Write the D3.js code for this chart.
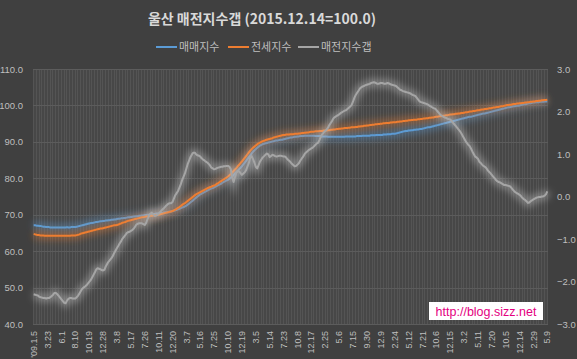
<!DOCTYPE html>
<html>
<head>
<meta charset="utf-8">
<script src="https://cdnjs.cloudflare.com/ajax/libs/d3/7.8.5/d3.min.js"></script>
<style>
  body { margin: 0; background: #404040; }
  svg { display: block; font-family: "Noto Sans CJK KR", "Noto Sans", sans-serif; }
</style>
</head>
<body>
<div id="chart"></div>
<script>
// weekly index values, one row = 10 weeks (one x label)
var saleIdx = [
  67.1, 67.1, 67.0, 67.0, 66.9, 66.9, 66.8, 66.7, 66.7, 66.6,
  66.6, 66.6, 66.5, 66.5, 66.5, 66.5, 66.5, 66.5, 66.5, 66.5,
  66.5, 66.5, 66.5, 66.5, 66.6, 66.5, 66.5, 66.6, 66.6, 66.6,
  66.6, 66.7, 66.8, 66.9, 67.0, 67.1, 67.2, 67.3, 67.4, 67.5,
  67.6, 67.7, 67.7, 67.8, 67.9, 68.0, 68.0, 68.1, 68.2, 68.2,
  68.3, 68.3, 68.4, 68.4, 68.5, 68.5, 68.6, 68.6, 68.7, 68.7,
  68.8, 68.9, 68.9, 69.0, 69.0, 69.1, 69.1, 69.2, 69.3, 69.3,
  69.4, 69.4, 69.5, 69.5, 69.6, 69.6, 69.7, 69.7, 69.8, 69.8,
  69.9, 69.9, 70.0, 70.0, 70.1, 70.1, 70.2, 70.2, 70.3, 70.3,
  70.4, 70.4, 70.5, 70.5, 70.6, 70.7, 70.7, 70.8, 70.8, 70.9,
  71.0, 71.1, 71.2, 71.3, 71.5, 71.6, 71.8, 72.0, 72.1, 72.3,
  72.5, 72.8, 73.1, 73.4, 73.7, 74.0, 74.4, 74.7, 75.0, 75.3,
  75.6, 75.8, 76.0, 76.2, 76.4, 76.6, 76.8, 77.0, 77.2, 77.3,
  77.5, 77.7, 77.9, 78.1, 78.3, 78.5, 78.8, 79.0, 79.2, 79.4,
  79.6, 79.9, 80.2, 80.5, 80.9, 81.3, 81.7, 82.1, 82.5, 82.9,
  83.3, 83.8, 84.3, 84.8, 85.3, 85.8, 86.3, 86.8, 87.3, 87.7,
  88.0, 88.4, 88.7, 89.0, 89.2, 89.4, 89.5, 89.6, 89.7, 89.8,
  89.9, 90.0, 90.1, 90.2, 90.3, 90.4, 90.4, 90.5, 90.6, 90.6,
  90.7, 90.8, 90.9, 91.0, 91.1, 91.2, 91.2, 91.3, 91.4, 91.4,
  91.5, 91.5, 91.6, 91.6, 91.6, 91.7, 91.7, 91.7, 91.7, 91.7,
  91.7, 91.7, 91.7, 91.6, 91.6, 91.6, 91.6, 91.5, 91.5, 91.5,
  91.5, 91.5, 91.4, 91.4, 91.4, 91.4, 91.4, 91.4, 91.4, 91.4,
  91.4, 91.4, 91.4, 91.4, 91.4, 91.5, 91.5, 91.5, 91.5, 91.5,
  91.5, 91.5, 91.5, 91.6, 91.6, 91.6, 91.6, 91.7, 91.7, 91.7,
  91.7, 91.7, 91.7, 91.8, 91.8, 91.8, 91.8, 91.9, 91.9, 91.9,
  91.9, 91.9, 92.0, 92.0, 92.0, 92.1, 92.1, 92.1, 92.2, 92.2,
  92.2, 92.3, 92.4, 92.5, 92.6, 92.7, 92.8, 92.9, 93.0, 93.0,
  93.1, 93.1, 93.2, 93.2, 93.3, 93.3, 93.4, 93.4, 93.5, 93.5,
  93.6, 93.7, 93.8, 93.9, 94.0, 94.0, 94.1, 94.2, 94.3, 94.4,
  94.5, 94.6, 94.7, 94.8, 94.9, 95.0, 95.1, 95.2, 95.3, 95.4,
  95.5, 95.6, 95.7, 95.8, 95.9, 96.0, 96.1, 96.2, 96.3, 96.4,
  96.5, 96.6, 96.7, 96.8, 96.9, 96.9, 97.0, 97.1, 97.2, 97.3,
  97.4, 97.5, 97.6, 97.7, 97.8, 97.8, 97.9, 98.0, 98.1, 98.2,
  98.3, 98.4, 98.5, 98.6, 98.7, 98.8, 98.9, 99.0, 99.1, 99.2,
  99.3, 99.4, 99.5, 99.5, 99.6, 99.7, 99.8, 99.8, 99.9, 99.9,
  100.0, 100.1, 100.2, 100.3, 100.3, 100.4, 100.5, 100.6, 100.6, 100.7,
  100.8, 100.8, 100.9, 100.9, 100.9, 101.0, 101.0, 101.0, 101.1, 101.1,
  101.1
];

var jeonseIdx = [
  64.7, 64.6, 64.5, 64.4, 64.4, 64.3, 64.3, 64.3, 64.2, 64.2,
  64.2, 64.2, 64.2, 64.2, 64.2, 64.2, 64.2, 64.2, 64.2, 64.2,
  64.2, 64.2, 64.2, 64.2, 64.2, 64.2, 64.2, 64.3, 64.3, 64.3,
  64.3, 64.4, 64.5, 64.6, 64.8, 64.9, 65.0, 65.1, 65.2, 65.3,
  65.4, 65.5, 65.6, 65.7, 65.8, 65.9, 66.0, 66.1, 66.2, 66.2,
  66.3, 66.4, 66.5, 66.6, 66.7, 66.8, 66.9, 67.0, 67.1, 67.1,
  67.2, 67.3, 67.5, 67.6, 67.8, 67.9, 68.0, 68.2, 68.3, 68.4,
  68.5, 68.6, 68.7, 68.8, 68.9, 69.0, 69.1, 69.2, 69.3, 69.3,
  69.4, 69.5, 69.5, 69.6, 69.7, 69.7, 69.8, 69.8, 69.9, 69.9,
  70.0, 70.1, 70.2, 70.3, 70.4, 70.5, 70.6, 70.7, 70.8, 70.9,
  71.0, 71.2, 71.4, 71.6, 71.9, 72.1, 72.4, 72.7, 73.0, 73.2,
  73.5, 73.8, 74.1, 74.4, 74.7, 75.0, 75.3, 75.6, 75.8, 76.0,
  76.2, 76.4, 76.6, 76.8, 77.0, 77.2, 77.4, 77.6, 77.7, 77.9,
  78.0, 78.2, 78.5, 78.7, 79.0, 79.2, 79.5, 79.7, 80.0, 80.2,
  80.5, 80.8, 81.2, 81.6, 82.0, 82.4, 82.8, 83.3, 83.7, 84.2,
  84.6, 85.1, 85.6, 86.1, 86.6, 87.1, 87.6, 88.0, 88.4, 88.7,
  89.0, 89.3, 89.6, 89.8, 90.0, 90.2, 90.3, 90.5, 90.6, 90.7,
  90.8, 90.9, 91.0, 91.2, 91.3, 91.4, 91.5, 91.6, 91.7, 91.8,
  91.9, 91.9, 92.0, 92.0, 92.0, 92.1, 92.1, 92.1, 92.2, 92.2,
  92.2, 92.3, 92.3, 92.4, 92.4, 92.5, 92.5, 92.6, 92.6, 92.7,
  92.8, 92.8, 92.8, 92.9, 92.9, 92.9, 93.0, 93.0, 93.0, 93.1,
  93.1, 93.1, 93.2, 93.2, 93.3, 93.3, 93.4, 93.4, 93.5, 93.5,
  93.6, 93.6, 93.7, 93.7, 93.8, 93.8, 93.8, 93.9, 93.9, 94.0,
  94.0, 94.0, 94.1, 94.1, 94.2, 94.2, 94.3, 94.3, 94.4, 94.4,
  94.5, 94.5, 94.6, 94.6, 94.7, 94.7, 94.8, 94.8, 94.9, 94.9,
  95.0, 95.0, 95.1, 95.1, 95.2, 95.2, 95.2, 95.3, 95.3, 95.4,
  95.4, 95.4, 95.5, 95.5, 95.6, 95.6, 95.7, 95.7, 95.8, 95.8,
  95.9, 95.9, 96.0, 96.0, 96.1, 96.1, 96.1, 96.2, 96.2, 96.3,
  96.3, 96.4, 96.4, 96.5, 96.5, 96.6, 96.6, 96.7, 96.7, 96.8,
  96.9, 96.9, 97.0, 97.0, 97.1, 97.2, 97.2, 97.3, 97.3, 97.4,
  97.5, 97.5, 97.6, 97.6, 97.7, 97.7, 97.8, 97.8, 97.9, 97.9,
  98.0, 98.1, 98.1, 98.2, 98.3, 98.3, 98.4, 98.5, 98.5, 98.6,
  98.7, 98.7, 98.8, 98.9, 98.9, 99.0, 99.0, 99.1, 99.2, 99.2,
  99.3, 99.4, 99.4, 99.5, 99.6, 99.6, 99.7, 99.8, 99.8, 99.9,
  100.0, 100.1, 100.1, 100.2, 100.2, 100.3, 100.4, 100.4, 100.5, 100.5,
  100.6, 100.6, 100.7, 100.7, 100.8, 100.8, 100.9, 100.9, 101.0, 101.0,
  101.1, 101.1, 101.2, 101.2, 101.3, 101.3, 101.4, 101.4, 101.5, 101.5,
  101.6
];

var gapIdx = [
  -2.30, -2.31, -2.32, -2.33, -2.36, -2.37, -2.38, -2.39, -2.39, -2.40,
  -2.39, -2.39, -2.37, -2.34, -2.31, -2.27, -2.27, -2.30, -2.34, -2.38,
  -2.42, -2.46, -2.50, -2.51, -2.45, -2.41, -2.39, -2.39, -2.40, -2.40,
  -2.40, -2.37, -2.33, -2.28, -2.22, -2.17, -2.14, -2.12, -2.09, -2.05,
  -2.01, -1.97, -1.91, -1.85, -1.79, -1.72, -1.69, -1.70, -1.71, -1.73,
  -1.74, -1.72, -1.64, -1.58, -1.53, -1.49, -1.45, -1.40, -1.33, -1.27,
  -1.21, -1.16, -1.10, -1.05, -0.99, -0.95, -0.91, -0.86, -0.84, -0.83,
  -0.81, -0.79, -0.76, -0.71, -0.66, -0.64, -0.63, -0.63, -0.63, -0.65,
  -0.67, -0.62, -0.53, -0.45, -0.41, -0.38, -0.42, -0.45, -0.45, -0.43,
  -0.41, -0.37, -0.33, -0.30, -0.27, -0.23, -0.20, -0.17, -0.16, -0.16,
  -0.13, -0.05, 0.03, 0.08, 0.13, 0.21, 0.29, 0.39, 0.47, 0.55,
  0.66, 0.77, 0.85, 0.93, 0.99, 1.03, 1.03, 0.99, 0.97, 0.96,
  0.94, 0.90, 0.87, 0.85, 0.82, 0.80, 0.77, 0.73, 0.68, 0.66,
  0.64, 0.65, 0.67, 0.68, 0.69, 0.70, 0.70, 0.71, 0.71, 0.72,
  0.72, 0.70, 0.64, 0.45, 0.34, 0.46, 0.56, 0.60, 0.59, 0.55,
  0.51, 0.54, 0.57, 0.62, 0.71, 0.79, 0.92, 0.95, 0.88, 0.80,
  0.70, 0.66, 0.74, 0.82, 0.87, 0.92, 0.95, 0.98, 1.01, 0.99,
  0.93, 0.95, 0.98, 0.97, 0.95, 0.94, 0.95, 0.96, 0.96, 0.95,
  0.94, 0.94, 0.91, 0.87, 0.84, 0.81, 0.77, 0.74, 0.71, 0.72,
  0.75, 0.78, 0.84, 0.89, 0.93, 0.99, 1.03, 1.06, 1.09, 1.11,
  1.13, 1.15, 1.18, 1.22, 1.25, 1.27, 1.34, 1.42, 1.47, 1.51,
  1.54, 1.57, 1.62, 1.68, 1.73, 1.78, 1.84, 1.87, 1.89, 1.91,
  1.93, 1.96, 1.98, 2.00, 2.02, 2.03, 2.06, 2.09, 2.12, 2.15,
  2.23, 2.32, 2.39, 2.44, 2.49, 2.54, 2.57, 2.59, 2.60, 2.62,
  2.63, 2.64, 2.65, 2.67, 2.68, 2.69, 2.68, 2.66, 2.65, 2.66,
  2.67, 2.67, 2.66, 2.65, 2.66, 2.67, 2.66, 2.64, 2.63, 2.62,
  2.61, 2.60, 2.57, 2.54, 2.51, 2.50, 2.48, 2.47, 2.46, 2.45,
  2.44, 2.43, 2.41, 2.39, 2.38, 2.36, 2.32, 2.28, 2.24, 2.22,
  2.21, 2.20, 2.19, 2.18, 2.16, 2.14, 2.12, 2.10, 2.08, 2.07,
  2.04, 2.00, 1.96, 1.92, 1.90, 1.88, 1.86, 1.85, 1.83, 1.82,
  1.81, 1.78, 1.74, 1.70, 1.66, 1.62, 1.58, 1.54, 1.49, 1.43,
  1.37, 1.31, 1.26, 1.22, 1.19, 1.13, 1.06, 1.00, 0.94, 0.92,
  0.89, 0.82, 0.79, 0.75, 0.72, 0.70, 0.67, 0.62, 0.58, 0.55,
  0.51, 0.47, 0.43, 0.39, 0.36, 0.34, 0.33, 0.31, 0.29, 0.27,
  0.27, 0.26, 0.25, 0.24, 0.21, 0.17, 0.13, 0.10, 0.08, 0.06,
  0.04, 0.01, -0.03, -0.06, -0.08, -0.11, -0.15, -0.14, -0.11, -0.09,
  -0.07, -0.05, -0.03, -0.02, -0.01, -0.01, 0.00, 0.00, 0.02, 0.05,
  0.12
];

// x labels, one every 10 weeks
var tickLabels = ["'09.1.5", "3.23", "6.1", "8.10", "10.19", "12.28",
  "3.8", "5.17", "7.26", "10.11", "12.20",
  "3.7", "5.16", "7.25", "10.10", "12.19",
  "3.5", "5.14", "7.23", "10.8", "12.17",
  "2.25", "5.6", "7.15", "9.30", "12.9",
  "2.24", "5.12", "7.21", "10.6", "12.15",
  "3.2", "5.11", "7.20", "10.5", "12.14",
  "2.29", "5.9"];
var tickEvery = 10;

var leftTicks = [40, 50, 60, 70, 80, 90, 100, 110];
var rightTicks = [-3, -2, -1, 0, 1, 2, 3];

var seriesNames = ['매매지수', '전세지수', '매전지수갭'];
var seriesColors = ['#5b9bd5', '#ed7d31', '#a5a5a5'];

var W = 577, H = 359;
var plot = { left: 33, right: 548, top: 69, bottom: 324 };

var svg = d3.select('#chart').append('svg')
    .attr('width', W)
    .attr('height', H);

svg.append('rect')
    .attr('width', W).attr('height', H)
    .attr('fill', '#404040');

var defs = svg.append('defs');
defs.append('filter').attr('id', 'glow')
    .attr('x', '-5%').attr('y', '-20%').attr('width', '110%').attr('height', '140%')
  .append('feGaussianBlur').attr('stdDeviation', 3.5);

var n = saleIdx.length;
var x = d3.scaleBand()
    .domain(d3.range(n))
    .range([plot.left, plot.right]);
var cx = function(i) { return x(i) + x.bandwidth() / 2; };

var yL = d3.scaleLinear().domain([40, 110]).range([plot.bottom, plot.top]);
var yR = d3.scaleLinear().domain([-3, 3]).range([plot.bottom, plot.top]);

// plot area
svg.append('rect')
    .attr('x', plot.left).attr('y', plot.top)
    .attr('width', plot.right - plot.left)
    .attr('height', plot.bottom - plot.top)
    .attr('fill', '#474747');

// dense vertical gridlines
svg.append('g')
  .selectAll('line')
  .data(d3.range(0, n + 1, 2))
  .enter().append('line')
    .attr('x1', function(d) { return Math.round(plot.left + d * x.step()) + 0.5; })
    .attr('x2', function(d) { return Math.round(plot.left + d * x.step()) + 0.5; })
    .attr('y1', plot.top).attr('y2', plot.bottom)
    .attr('stroke', '#545454')
    .attr('stroke-width', 1);

// horizontal gridlines
svg.append('g')
  .selectAll('line')
  .data(leftTicks)
  .enter().append('line')
    .attr('x1', plot.left).attr('x2', plot.right)
    .attr('y1', function(d) { return Math.round(yL(d)) + 0.5; })
    .attr('y2', function(d) { return Math.round(yL(d)) + 0.5; })
    .attr('stroke', '#5c5c5c')
    .attr('stroke-width', 1);

// left axis
var leftAxis = svg.append('g')
    .attr('transform', 'translate(' + plot.left + ',0)')
    .call(d3.axisLeft(yL).tickValues(leftTicks).tickFormat(d3.format('.1f')).tickSize(0).tickPadding(10));
leftAxis.select('.domain').remove();
leftAxis.selectAll('text')
    .attr('fill', '#bfbfbf')
    .style('font-size', '9.5px');

// right axis
var rightAxis = svg.append('g')
    .attr('transform', 'translate(' + plot.right + ',0)')
    .call(d3.axisRight(yR).tickValues(rightTicks).tickFormat(d3.format('.1f')).tickSize(0).tickPadding(9));
rightAxis.select('.domain').remove();
rightAxis.selectAll('text')
    .attr('fill', '#bfbfbf')
    .style('font-size', '9.5px');

// bottom axis, rotated labels
var bottomAxis = svg.append('g')
    .attr('transform', 'translate(0,' + plot.bottom + ')')
    .call(d3.axisBottom(x)
      .tickValues(d3.range(0, n, tickEvery))
      .tickFormat(function(d) { return tickLabels[d / tickEvery]; })
      .tickSize(0));
bottomAxis.select('.domain').remove();
bottomAxis.selectAll('text')
    .attr('fill', '#bfbfbf')
    .style('font-size', '9px')
    .attr('text-anchor', 'end')
    .attr('dy', '0.35em')
    .attr('transform', 'translate(0,7) rotate(-90)')
    .attr('x', 0).attr('y', 0);

// lines
var lineL = d3.line()
    .x(function(d, i) { return cx(i); })
    .y(function(d) { return yL(d); });
var lineR = d3.line()
    .x(function(d, i) { return cx(i); })
    .y(function(d) { return yR(d); });

var seriesData = [
  { values: saleIdx, line: lineL, color: seriesColors[0], glow: '#5b9bd5' },
  { values: jeonseIdx, line: lineL, color: seriesColors[1], glow: '#ed7d31' },
  { values: gapIdx, line: lineR, color: seriesColors[2], glow: '#d0d0d0' }
];

var lines = svg.append('g');
seriesData.forEach(function(s) {
  lines.append('path')
      .attr('d', s.line(s.values))
      .attr('fill', 'none')
      .attr('stroke', s.glow)
      .attr('stroke-width', 8)
      .attr('stroke-opacity', 0.42)
      .attr('filter', 'url(#glow)');
  lines.append('path')
      .attr('d', s.line(s.values))
      .attr('fill', 'none')
      .attr('stroke', s.color)
      .attr('stroke-width', 2)
      .attr('stroke-linejoin', 'round');
});

// title
svg.append('text')
    .attr('x', 262).attr('y', 24)
    .attr('text-anchor', 'middle')
    .attr('fill', '#d9d9d9')
    .style('font-size', '14px')
    .style('font-weight', 'bold')
    .text('울산 매전지수갭 (2015.12.14=100.0)');

// legend
var legendX = [156, 228, 298];
var legend = svg.append('g');
seriesNames.forEach(function(name, i) {
  legend.append('line')
      .attr('x1', legendX[i]).attr('x2', legendX[i] + 21)
      .attr('y1', 47).attr('y2', 47)
      .attr('stroke', seriesColors[i])
      .attr('stroke-width', 2);
  legend.append('text')
      .attr('x', legendX[i] + 23).attr('y', 51)
      .attr('fill', '#bfbfbf')
      .style('font-size', '11px')
      .text(name);
});

// watermark
svg.append('rect')
    .attr('x', 429).attr('y', 302)
    .attr('width', 114).attr('height', 18)
    .attr('fill', '#ffffff');
svg.append('text')
    .attr('x', 486).attr('y', 316)
    .attr('text-anchor', 'middle')
    .attr('fill', '#e4007f')
    .style('font-size', '12.5px')
    .style('font-family', '"Liberation Sans", Arial, sans-serif')
    .text('http://blog.sizz.net');
</script>
</body>
</html>
